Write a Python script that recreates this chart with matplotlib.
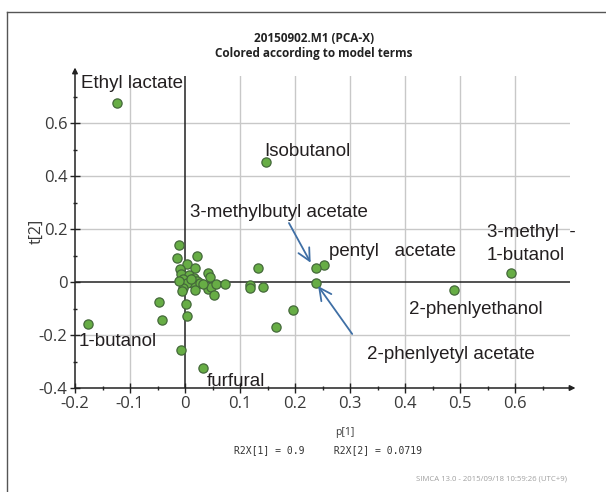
import matplotlib.pyplot as plt
from matplotlib.lines import Line2D

# loadings p[1], t[2]
p1 = [-0.123, 0.147, 0.593, 0.489, 0.252, 0.238, 0.238, -0.176, 0.033,
      -0.047, -0.041, -0.007, 0.004, 0.001, -0.011, -0.015, 0.022, 0.003,
      0.019, 0.041, 0.045, -0.010, -0.007, 0.007, 0.016, -0.003, 0.022,
      0.013, 0.004, 0.027, -0.003, -0.005, 0.019, 0.041, 0.047, 0.056,
      0.073, 0.053, 0.032, 0.010, -0.011, 0.119, 0.119, 0.141, 0.133,
      0.165, 0.196]
t2 = [0.675, 0.453, 0.034, -0.030, 0.064, 0.052, -0.005, -0.160, -0.326,
      -0.075, -0.142, -0.255, -0.130, -0.082, 0.140, 0.089, 0.100, 0.067,
      0.052, 0.033, 0.020, 0.048, 0.031, 0.026, 0.016, 0.010, 0.004,
      -0.003, -0.003, -0.005, -0.021, -0.034, -0.031, -0.028, -0.019, -0.009,
      -0.009, -0.049, -0.009, 0.010, 0.004, -0.011, -0.024, -0.019, 0.053,
      -0.170, -0.107]

xticks = [-0.2, -0.1, 0, 0.1, 0.2, 0.3, 0.4, 0.5, 0.6]
xticklabels = ["-0.2", "-0.1", "0", "0.1", "0.2", "0.3", "0.4", "0.5", "0.6"]
yticks = [-0.4, -0.2, 0, 0.2, 0.4, 0.6]
yticklabels = ["-0.4", "-0.2", "0", "0.2", "0.4", "0.6"]

fig = plt.figure(figsize=(6.06, 4.92), dpi=100)
ax = fig.add_axes([75/606, 104/492, 495/606, 312/492])
ax.set_xlim(-0.2, 0.7)
ax.set_ylim(-0.4, 0.778)

# grid
for x in xticks:
    if x not in (-0.2, 0):
        ax.axvline(x, color='#c8c8c8', lw=1, zorder=0)
for y in yticks:
    if y not in (-0.4, 0):
        ax.axhline(y, color='#c8c8c8', lw=1, zorder=0)
ax.axvline(0, color='#222222', lw=1.1, zorder=1)
ax.axhline(0, color='#222222', lw=1.1, zorder=1)

for s in ax.spines.values():
    s.set_visible(False)

# axes with arrows
ax.annotate('', xy=(0.71, -0.4), xytext=(-0.2, -0.4), annotation_clip=False,
            arrowprops=dict(arrowstyle='-|>', color='#222222', lw=1.1,
                            mutation_scale=8, shrinkA=0, shrinkB=0))
ax.annotate('', xy=(-0.2, 0.81), xytext=(-0.2, -0.4), annotation_clip=False,
            arrowprops=dict(arrowstyle='-|>', color='#222222', lw=1.1,
                            mutation_scale=8, shrinkA=0, shrinkB=0))

ax.set_xticks(xticks)
ax.set_xticklabels(xticklabels)
ax.set_yticks(yticks)
ax.set_yticklabels(yticklabels)
ax.set_xticks([-0.15, -0.05, 0.05, 0.15, 0.25, 0.35, 0.45, 0.55, 0.65], minor=True)
ax.set_yticks([-0.3, -0.1, 0.1, 0.3, 0.5, 0.7], minor=True)
ax.tick_params(which='major', direction='inout', length=7, width=1, color='#222222',
               labelsize=12, labelcolor='#3a3a3a', pad=2)
ax.tick_params(which='minor', direction='inout', length=3, width=1, color='#222222')
for lab in ax.get_xticklabels() + ax.get_yticklabels():
    lab.set_family('Open Sans')

ax.scatter(p1, t2, s=44, facecolor='#67ad45', edgecolor='#44693a', linewidth=0.9, zorder=3)

# labels
tf = dict(family='Liberation Sans', fontsize=13.5, color='#231f20', va='center', ha='left')
ax.text(-0.189, 0.751, "Ethyl lactate", **tf)
ax.text(0.145, 0.494, "Isobutanol", **tf)
ax.text(0.009, 0.262, "3-methylbutyl acetate", **tf)
ax.text(0.262, 0.117, "pentyl   acetate", **tf)
ax.text(0.549, 0.143, "3-methyl  -\n1-butanol", linespacing=1.45, **tf)
ax.text(0.407, -0.102, "2-phenlyethanol", **tf)
ax.text(0.331, -0.275, "2-phenlyetyl acetate", **tf)
ax.text(-0.193, -0.223, "1-butanol", **tf)
ax.text(0.040, -0.374, "furfural", **tf)

arr = dict(arrowstyle='->', color='#3f6fa5', lw=1.3, mutation_scale=22, shrinkA=0, shrinkB=0)
ax.annotate('', xy=(0.2285, 0.073), xytext=(0.189, 0.223), arrowprops=arr)
ax.annotate('', xy=(0.242, -0.015), xytext=(0.304, -0.196), arrowprops=arr)

# titles and footer
fig.text(314/606, 1 - 38/492, "20150902.M1 (PCA-X)", family='Open Sans', weight='bold',
         fontsize=8.5, ha='center', va='center', color='#222222')
fig.text(314/606, 1 - 53/492, "Colored according to model terms", family='Open Sans',
         weight='bold', fontsize=8.5, ha='center', va='center', color='#222222')
fig.text(37/606, 1 - 231/492, "t[2]", family='Open Sans', fontsize=11.5, rotation=90,
         ha='center', va='center', color='#3a3a3a')
fig.text(345/606, 1 - 432/492, "p[1]", family='Open Sans', fontsize=7.5,
         ha='center', va='center', color='#3a3a3a')
fig.text(328/606, 1 - 450/492, "R2X[1] = 0.9     R2X[2] = 0.0719", family='DejaVu Sans Mono',
         fontsize=7, ha='center', va='center', color='#333333')
fig.text(567/606, 1 - 479/492, "SIMCA 13.0 - 2015/09/18 10:59:26 (UTC+9)", family='Open Sans',
         fontsize=5.6, ha='right', va='center', color='#a0a0a0')

# outer frame
fig.add_artist(Line2D([7/606, 1], [1 - 12/492, 1 - 12/492], color='#555555', lw=1))
fig.add_artist(Line2D([7/606, 7/606], [0, 1 - 12/492], color='#555555', lw=1))

fig.savefig('out.png', dpi=100)
